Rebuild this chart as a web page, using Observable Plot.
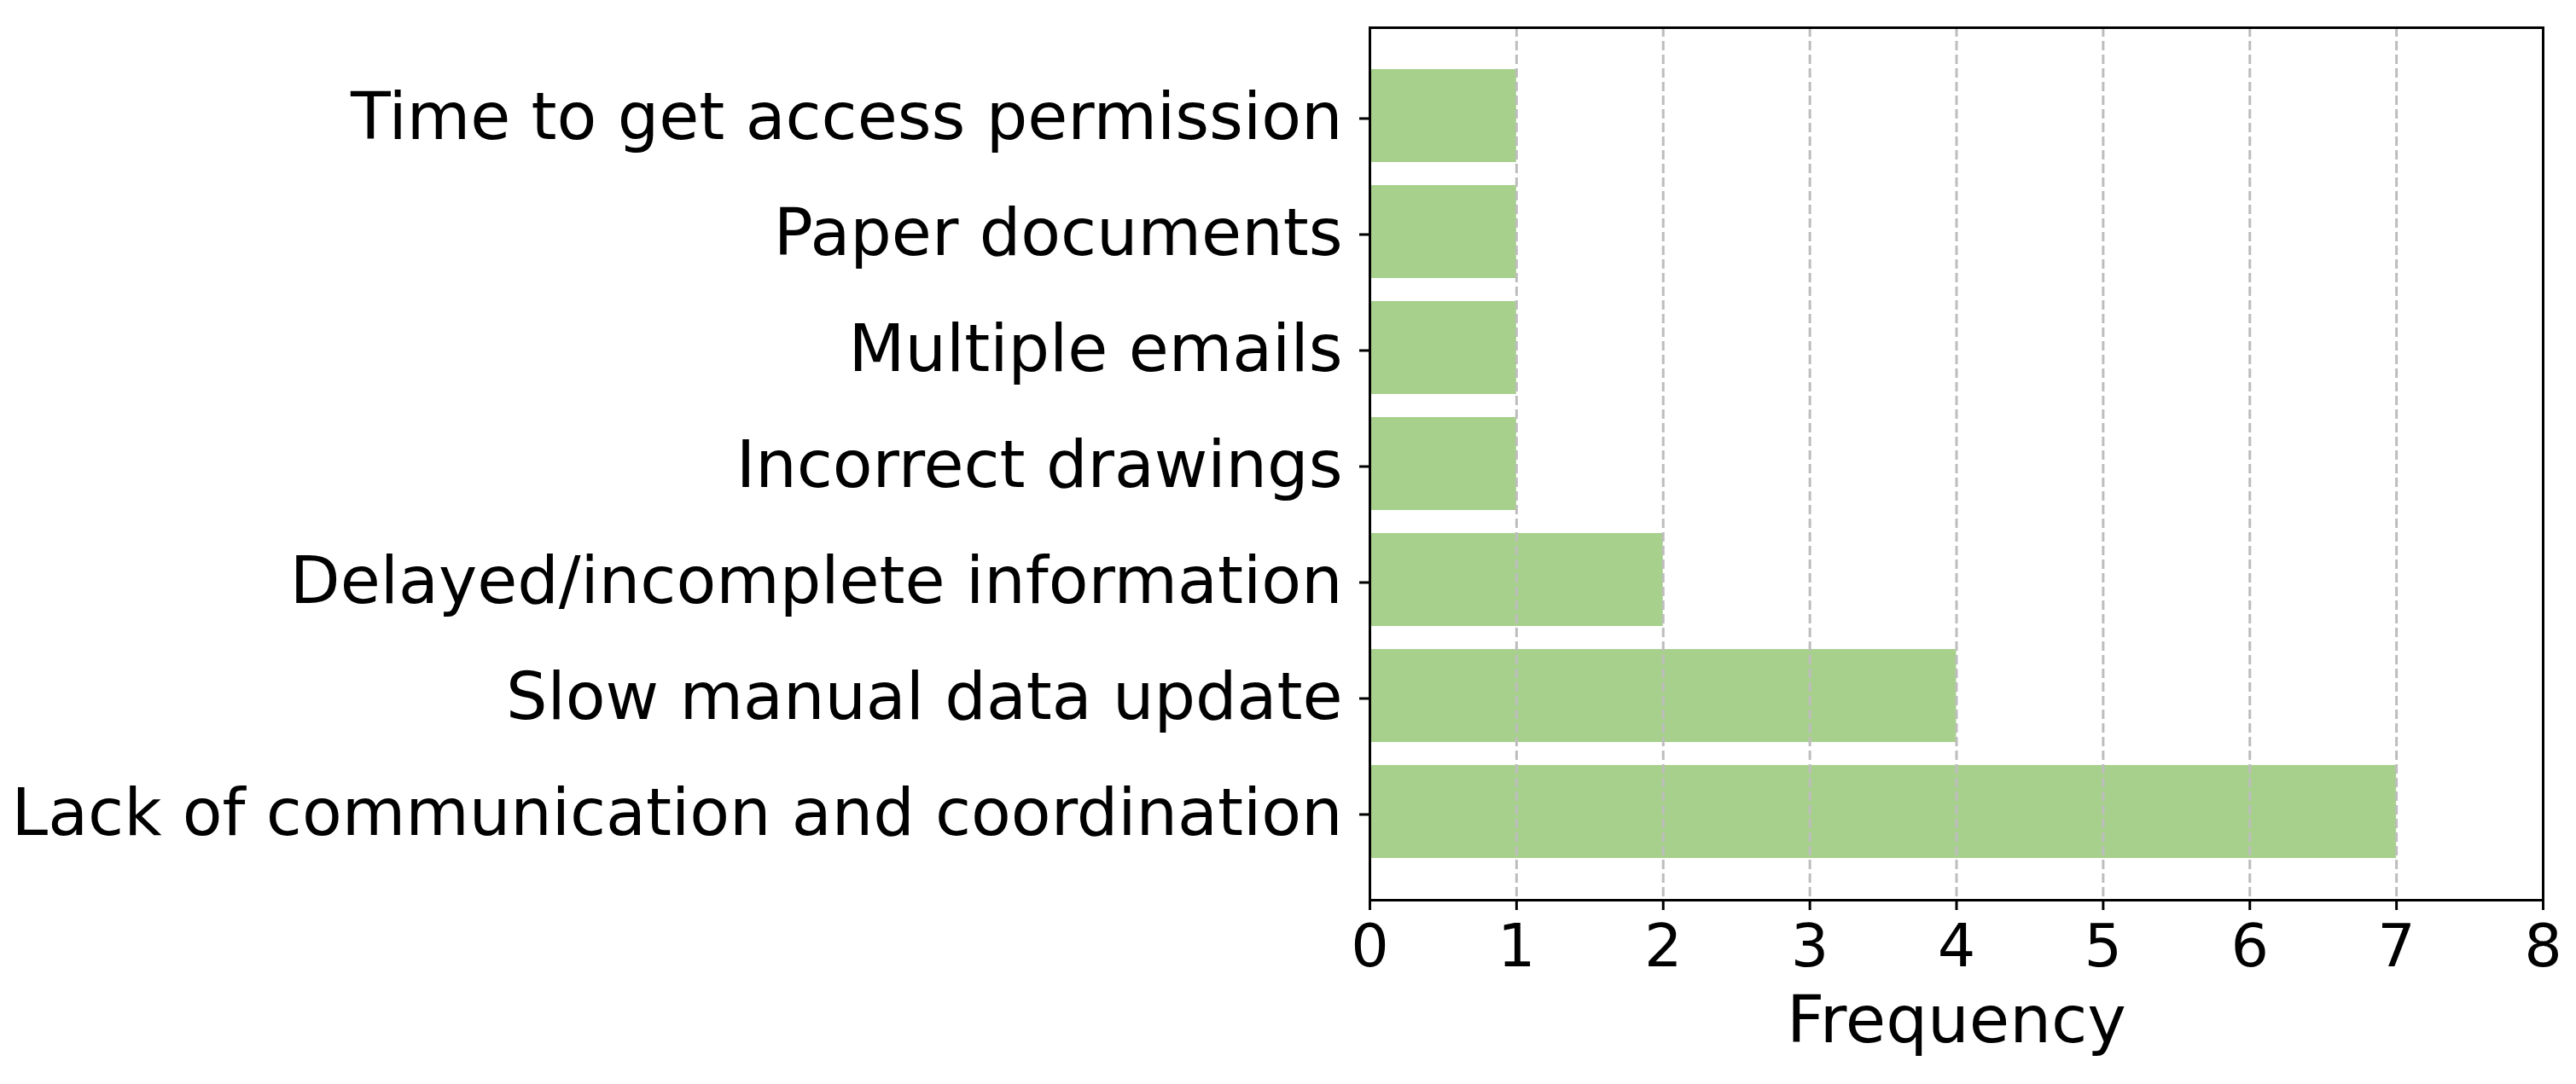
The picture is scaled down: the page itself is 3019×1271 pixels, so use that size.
<!DOCTYPE html>
<html>
<head>
<meta charset="utf-8">
<script src="https://cdn.jsdelivr.net/npm/d3@7"></script>
<script src="https://cdn.jsdelivr.net/npm/@observablehq/plot@0.6"></script>
<style>
  html, body { margin: 0; padding: 0; background: #fff; }
  #chart svg { display: block; }
</style>
</head>
<body>
<div id="chart"></div>
<script>
const categories = [
  "Time to get access permission",
  "Paper documents",
  "Multiple emails",
  "Incorrect drawings",
  "Delayed/incomplete information",
  "Slow manual data update",
  "Lack of communication and coordination"
];
const frequencies = [1, 1, 1, 1, 2, 4, 7];
const xTicks = [0, 1, 2, 3, 4, 5, 6, 7, 8];
const xLabel = "Frequency";

const data = categories.map((c, i) => ({category: c, value: frequencies[i]}));

const chart = Plot.plot({
  width: 3019,
  height: 1271,
  marginLeft: 1605,
  marginRight: 39,
  marginTop: 32,
  marginBottom: 216,
  style: {fontFamily: "'DejaVu Sans', sans-serif", background: "#fff", color: "#000"},
  x: {domain: [0, 8], ticks: xTicks},
  y: {domain: categories, paddingInner: 0.2, paddingOuter: 0.34},
  marks: [
    Plot.barX(data, {x: "value", y: "category", fill: "#a8d08d"}),
    Plot.gridX(xTicks, {stroke: "#bdbdbd", strokeOpacity: 1, strokeWidth: 3, strokeDasharray: "11,5"}),
    Plot.frame({stroke: "#000", strokeWidth: 3}),
    Plot.axisX(xTicks, {tickSize: 12, tickPadding: 16, fontSize: 70, strokeWidth: 3, label: null, tickFormat: d3.format("d")}),
    Plot.axisY({tickSize: 12, tickPadding: 20, fontSize: 76.5, strokeWidth: 3, label: null, dy: 3}),
    Plot.text([xLabel], {text: d => d, frameAnchor: "bottom", lineAnchor: "top", dy: 112, fontSize: 77})
  ]
});
document.getElementById("chart").appendChild(chart);
</script>
</body>
</html>
